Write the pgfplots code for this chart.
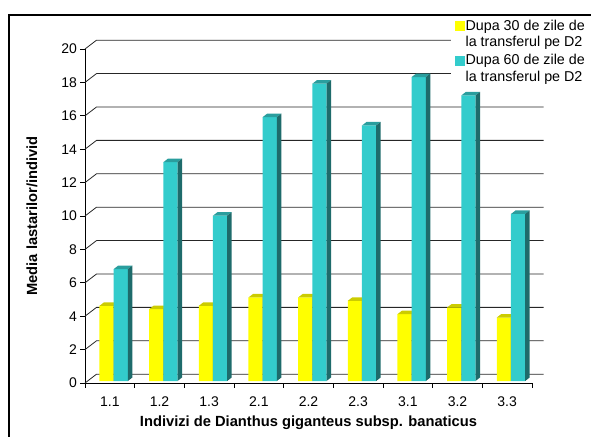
\documentclass[border=0pt]{standalone}
\usepackage{pgfplots}
\pgfplotsset{compat=1.18}
\usepackage{pgfplotstable}
\usepackage{fontspec}
\setmainfont{Liberation Sans}

\definecolor{barY}{HTML}{FFFF00}
\definecolor{barYtop}{HTML}{CCCC00}
\definecolor{barYside}{HTML}{999900}
\definecolor{barT}{HTML}{33CCCC}
\definecolor{barTtop}{HTML}{2A9E9E}
\definecolor{barTside}{HTML}{1E6B6B}
\definecolor{gridc}{HTML}{262626}

% mean number of shoots per plant, after 30 and 60 days on D2
\pgfplotstableread{
cat d30 d60
1.1 4.5 6.7
1.2 4.3 13.1
1.3 4.5 9.9
2.1 5.0 15.8
2.2 5.0 17.8
2.3 4.8 15.3
3.1 4.0 18.2
3.2 4.4 17.1
3.3 3.8 10.0
}\datatable

% top and right faces of a bar; \barval is the bar's value, 16.7pt per unit
\newcommand\boxfaces[2]{%
  \pgfmathsetlengthmacro{\bh}{\barval*16.7pt}%
  \pgfpathmoveto{\pgfqpoint{-7.1pt}{0pt}}%
  \pgfpathlineto{\pgfqpoint{7.1pt}{0pt}}%
  \pgfpathlineto{\pgfqpoint{11.6pt}{3.5pt}}%
  \pgfpathlineto{\pgfqpoint{-2.6pt}{3.5pt}}%
  \pgfpathclose
  \pgfsetfillcolor{#1}\pgfusepath{fill}%
  \pgfpathmoveto{\pgfqpoint{7.1pt}{0pt}}%
  \pgfpathlineto{\pgfqpoint{11.6pt}{3.5pt}}%
  \pgfpathlineto{\pgfpoint{11.6pt}{3.5pt-\bh}}%
  \pgfpathlineto{\pgfpoint{7.1pt}{-\bh}}%
  \pgfpathclose
  \pgfsetfillcolor{#2}\pgfusepath{fill}%
}
\pgfdeclareplotmark{boxY}{\boxfaces{barYtop}{barYside}}
\pgfdeclareplotmark{boxT}{\boxfaces{barTtop}{barTside}}

\pgfplotsset{
  faces/.style={forget plot, only marks, scatter, mark=#1,
    scatter/@pre marker code/.code={}, scatter/@post marker code/.code={},
    visualization depends on={rawy \as \barval}, yshift=2pt},
  front/.style={forget plot, ybar, bar width=14.2pt, bar shift=0pt,
    draw=none, fill=#1, yshift=2pt},
}

\begin{document}
\begin{tikzpicture}
\path[use as bounding box] (0,0) rectangle (591pt,436pt);
\begin{axis}[
  at={(85pt,53pt)}, anchor=south west,
  scale only axis, width=447pt, height=334pt,
  xmin=0, xmax=9, ymin=0, ymax=20,
  clip=false, clip marker paths=true,
  axis lines*=left,
  axis line style={black, line width=0.9pt},
  font=\fontsize{14}{16}\selectfont,
  /pgf/number format/assume math mode=true,
  ytick={0,2,...,20},
  xtick={0,...,9}, xticklabels={},
  extra x ticks={0.5,1.5,...,8.5},
  extra x tick labels={1.1,1.2,1.3,2.1,2.2,2.3,3.1,3.2,3.3},
  extra x tick style={major tick length=0pt,
    xticklabel style={anchor=center, yshift=-19pt}},
  tick align=outside,
  major tick length=4.5pt,
  tick style={black, line width=0.8pt},
  yticklabel style={anchor=east},
  xlabel={\fontsize{14.7}{16}\selectfont\bfseries Indivizi de Dianthus giganteus subsp. banaticus},
  ylabel={\fontsize{14.7}{16}\selectfont\bfseries Media lastarilor/individ},
  xlabel style={at={(axis description cs:0.5,-0.1198)}, anchor=center},
  ylabel style={at={(axis description cs:-0.1186,0.5)}, anchor=center},
  legend cell align=left,
  legend style={at={(axis description cs:0.8188,1.099)}, anchor=north west,
    draw=none, fill=white, inner xsep=4pt, inner ysep=3pt, row sep=4pt,
    font=\fontsize{14.3}{16.5}\selectfont,
    nodes={inner sep=1pt, align=left}},
]
% back wall grid with its links to the front axis
\pgfplotsinvokeforeach{0,2,...,20}{
  \draw[gridc, line width=0.8pt] (axis cs:0,#1) -- ++(11.5pt,8.8pt) -- ++(447pt,0pt);
}
\addplot[front=barY] table[x expr=\coordindex+0.434, y=d30] {\datatable};
\addplot[faces=boxY] table[x expr=\coordindex+0.434, y=d30] {\datatable};
\addplot[front=barT] table[x expr=\coordindex+0.72, y=d60] {\datatable};
\addplot[faces=boxT] table[x expr=\coordindex+0.72, y=d60] {\datatable};
\addlegendimage{legend image code/.code={\fill[barY] (0pt,3.75pt) rectangle (9pt,12.75pt);}}
\addlegendentry{Dupa 30 de zile de\\la transferul pe D2}
\addlegendimage{legend image code/.code={\fill[barT] (0pt,3.75pt) rectangle (9pt,12.75pt);}}
\addlegendentry{Dupa 60 de zile de\\la transferul pe D2}
\end{axis}
\draw[black, line width=1.3pt] (9pt,-2pt) -- (9pt,421pt) -- (593pt,421pt);
\end{tikzpicture}
\end{document}
